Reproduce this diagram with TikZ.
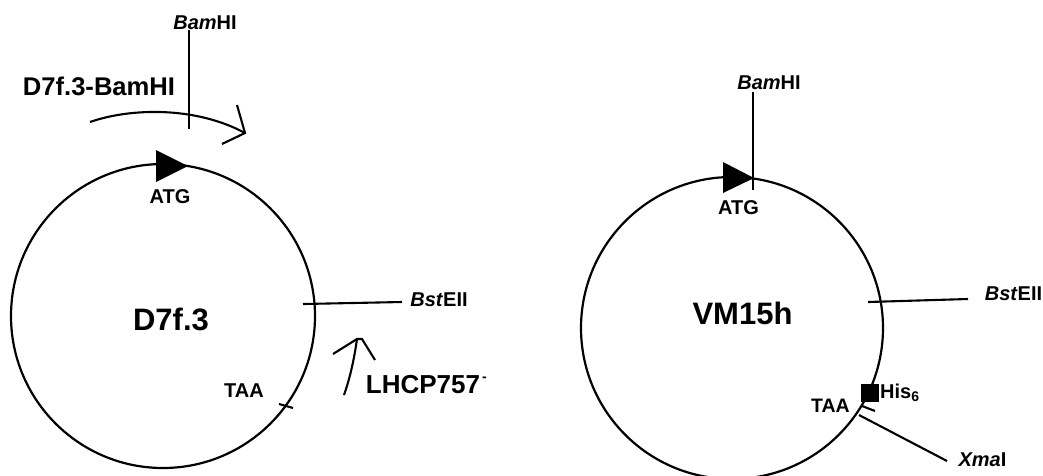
\documentclass[tikz,border=0pt]{standalone}
\usepackage{fontspec}
\setmainfont{Liberation Sans}
\usetikzlibrary{calc}
\tikzset{
  x=1pt,y=-1pt,
  plasmid/.style={draw=black,line width=2.2pt,circle,inner sep=0pt,minimum size=#1},
  lin/.style={draw=black,line width=2.1pt},
  lbl/.style={inner sep=0pt,text=black,font=\fontsize{#1}{#1}\selectfont\bfseries},
}
\begin{document}
\begin{tikzpicture}
\useasboundingbox (0,0) rectangle (1043,475);
\clip (0,0) rectangle (1043,475);
% left plasmid
\node[plasmid=304pt] (c1) at (163,316) {};
\node[lbl=31pt] (name1) at (171,319.5) {D7f.3};
\coordinate (t1a) at (156,150);
\coordinate (t1b) at (156,182);
\coordinate (t1c) at (188,166);
\fill[black] (t1a) -- (t1c) -- (t1b) -- cycle;
\node[lbl=20pt] (atg1) at (170,197) {ATG};
\node[lbl=20pt] (bam1) at (205,23) {\textit{Bam}HI};
\coordinate (b1s) at (189,30);
\coordinate (b1e) at (189,129);
\draw[lin] (b1s) -- (b1e);
\node[lbl=25.6pt] (fwd) at (99,86) {D7f.3-BamHI};
\coordinate (a1s) at (90,122);
\coordinate (a1e) at (245,133);
\draw[lin] (a1s) .. controls (130,108) and (195,106) .. (a1e);
\coordinate (a1u) at (237,105);
\coordinate (a1d) at (222,144);
\draw[lin] (a1u) -- (a1e) -- (a1d);
\node[lbl=20pt] (bst1) at (439,300) {\textit{Bst}EII};
\coordinate (b2s) at (303,304);
\coordinate (b2e) at (402,302);
\draw[lin] (b2s) -- (b2e);
\node[lbl=20pt] (taa1) at (244,391) {TAA};
\coordinate (tk1a) at (279,404);
\coordinate (tk1b) at (293,408);
\draw[lin] (tk1a) -- (tk1b);
\coordinate (r1s) at (344,395);
\coordinate (r1t) at (357,339);
\coordinate (r1u) at (362,339);
\coordinate (r1l) at (333,354);
\coordinate (r1r) at (375,360);
\draw[lin] (r1s) .. controls (350,378) and (354,360) .. (r1t);
\draw[lin] (r1l) -- (r1t) -- (r1u) -- (r1r);
\node[lbl=26pt] (rev) at (423,385) {LHCP757};
\node[lbl=14pt] (revm) at (484.5,379) {-};
% right plasmid
\node[plasmid=302pt] (c2) at (732,328) {};
\node[lbl=31pt] (name2) at (742.5,313.5) {VM15h};
\coordinate (t2a) at (723,162);
\coordinate (t2b) at (723,193);
\coordinate (t2c) at (754,178);
\fill[black] (t2a) -- (t2c) -- (t2b) -- cycle;
\node[lbl=20pt] (atg2) at (738.5,208) {ATG};
\node[lbl=20pt] (bam2) at (769,83) {\textit{Bam}HI};
\coordinate (b3s) at (753,92);
\coordinate (b3e) at (753,190);
\draw[lin] (b3s) -- (b3e);
\node[lbl=20pt] (bst2) at (1013.5,294) {\textit{Bst}EII};
\coordinate (b4s) at (868,302);
\coordinate (b4e) at (968,299);
\draw[lin] (b4s) -- (b4e);
\node[fill=black,inner sep=0pt,minimum size=18pt] (his) at (870,393) {};
\node[lbl=20pt,anchor=west] (histxt) at (880,393) {His\textsubscript{6}};
\node[lbl=19.5pt] (taa2) at (830.5,406) {TAA};
\coordinate (tk2a) at (862,406);
\coordinate (tk2b) at (875,411);
\draw[lin] (tk2a) -- (tk2b);
\coordinate (x1) at (859,415);
\coordinate (x2) at (947,461);
\draw[lin] (x1) -- (x2);
\node[lbl=20pt] (xma) at (982.5,460) {\textit{Xma}I};
\end{tikzpicture}
\end{document}
